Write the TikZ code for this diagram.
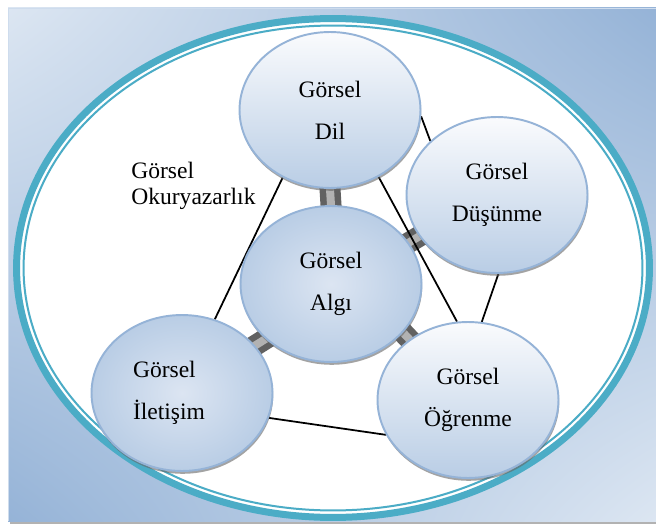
\documentclass[tikz,border=0pt]{standalone}
\usepackage{fontspec}
\setmainfont{Liberation Serif}
\usetikzlibrary{shapes.geometric,shadows,shadings}
\definecolor{bglight}{HTML}{DCE6F2}
\definecolor{bgdark}{HTML}{95B3D7}
\definecolor{rim}{HTML}{4BACC6}
\definecolor{bubbleedge}{HTML}{95B3D7}
\definecolor{bubbletop}{HTML}{FAFBFD}
\definecolor{bubblebottom}{HTML}{B9CDE5}
\definecolor{bubblemid}{HTML}{DCE5F2}
\pgfdeclarelayer{back}
\pgfdeclarelayer{links}
\pgfsetlayers{back,links,main}
\tikzset{
    bubble/.style={ellipse,draw=bubbleedge,line width=1.1pt,inner sep=0pt,
        minimum width=3.62cm,minimum height=3.12cm,align=center,
        top color=bubbletop,bottom color=bubblebottom,
        font=\fontsize{13.4}{23.9}\selectfont,
        drop shadow={shadow xshift=0.4pt,shadow yshift=-1.6pt,fill=black!60,opacity=0.6}},
    flatbubble/.style={bubble,inner color=bubblemid,outer color=bubblebottom},
    joint/.style={draw=black!62,line width=0.13cm,double=black!30,double distance=0.16cm,
        shorten <=-3pt,shorten >=-3pt},
    tie/.style={black,line width=1pt}
}
\begin{document}
\begin{tikzpicture}[x=0.02cm,y=-0.02cm]
\useasboundingbox (0,0) rectangle (656,527);
\begin{pgfonlayer}{back}
\fill[black!30] (10,521) rectangle (656,523.5);
\shade[upper left=bglight,upper right=bgdark,lower left=bgdark,lower right=bglight] (8,8) rectangle (656,521);
\draw[bglight!80!bgdark,line width=0.5pt] (8,521)--(8,8)--(656,8);
\fill[white] (333,268) ellipse [x radius=6.33cm,y radius=4.99cm];
\draw[rim,line width=0.14cm] (333,268) ellipse [x radius=6.33cm,y radius=4.99cm];
\draw[rim,line width=0.04cm] (333,268) ellipse [x radius=6.19cm,y radius=4.85cm];
\end{pgfonlayer}
% bubbles
\node[bubble] (dil) at (330,110) {Görsel\\Dil};
\node[bubble] (dus) at (497,195) {Görsel\\Düşünme};
\node[flatbubble] (alg) at (331,284) {Görsel\\Algı};
\node[flatbubble,text width=1.96cm,align=left] (ilt) at (182,393) {Görsel\\İletişim};
\node[bubble] (ogr) at (468,400) {Görsel\\Öğrenme};
\node[align=left,inner sep=0pt,anchor=west,font=\fontsize{13.4}{14.8}\selectfont] (okur) at (131,186) {Görsel\\Okuryazarlık};
% links
\begin{pgfonlayer}{links}
\foreach \other/\a/\b in {dil/90/270,dus/28.5/208,ogr/-34/134,ilt/220/33}
    \draw[joint] (alg.\a)--(\other.\b);
\draw[tie] (dil.-4.5)--(dus.141);
\draw[tie] (dil.-54.5)--(ogr.98);
\draw[tie] (dus.-89)--(ogr.80.5);
\draw[tie] (dil.235)--(ilt.66);
\draw[tie] (ilt.-16)--(ogr.203);
\end{pgfonlayer}
\end{tikzpicture}
\end{document}
